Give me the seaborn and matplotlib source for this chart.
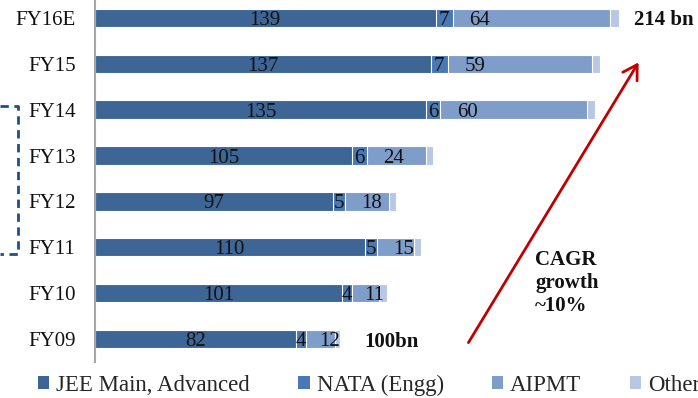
import matplotlib
matplotlib.use("Agg")
import matplotlib.pyplot as plt
import numpy as np
import pandas as pd
import seaborn as sns
from matplotlib.lines import Line2D
from matplotlib.patches import Patch, FancyArrowPatch

sns.set_theme(style="white")
serif = ["Liberation Serif", "DejaVu Serif"]
plt.rcParams["font.family"] = serif

# data, top row first
years = ["FY16E", "FY15", "FY14", "FY13", "FY12", "FY11", "FY10", "FY09"]
jee = [139, 137, 135, 105, 97, 110, 101, 82]
nata = [7, 7, 6, 6, 5, 5, 4, 4]
aipmt = [64, 59, 60, 24, 18, 15, 11, 12]
others = [4, 3, 3, 3, 3, 3, 3, 2]
series = ["JEE Main, Advanced", "NATA (Engg)", "AIPMT", "Other"]
colors = ["#3d6596", "#4a78b4", "#7f9dc9", "#b8c8e4"]

df = pd.DataFrame({"year": years, "jee": jee, "nata": nata,
                   "aipmt": aipmt, "others": others})
df["c1"] = df["jee"]
df["c2"] = df["c1"] + df["nata"]
df["c3"] = df["c2"] + df["aipmt"]
df["c4"] = df["c3"] + df["others"]

fig = plt.figure(figsize=(6.98, 3.98), dpi=100)
ax = fig.add_axes([95 / 698, 1 - 362 / 398, 1 - 95 / 698, 362 / 398])

# stacked bars: draw cumulative totals, largest first
for col, c in zip(["c4", "c3", "c2", "c1"], colors[::-1]):
    sns.barplot(data=df, x=col, y="year", order=years, color=c, width=0.4,
                orient="h", ax=ax, edgecolor="white", linewidth=0.8,
                saturation=1)

fs = 15
txt = dict(va="center_baseline", fontsize=fs, color="#111111")
for i, row in df.iterrows():
    ax.text(row["jee"] / 2, i, str(row["jee"]), ha="center", **txt)
    ax.text(row["c1"] + row["nata"] / 2, i, str(row["nata"]), ha="center", **txt)
    off = min(11, 0.8 * row["aipmt"])
    ax.text(row["c2"] + off, i, str(row["aipmt"]), ha="center", **txt)

ax.set_xlim(0, 603 / 2.45)
ax.set_ylim(7.5, -0.39)
ax.set_xlabel("")
ax.set_ylabel("")
ax.set_xticks([])
ax.tick_params(axis="y", length=0, pad=14, labelsize=fs, labelcolor="#111111")
for s in ["top", "right", "bottom"]:
    ax.spines[s].set_visible(False)
ax.spines["left"].set_color("#a6a6a6")
ax.spines["left"].set_linewidth(1.5)

# totals
ax.text(df["c4"][0] + 6, 0, "214 bn", ha="left", fontweight="bold",
        clip_on=False, **txt)
ax.text(df["c4"][7] + 10, 7, "100bn", ha="left", fontweight="bold", **txt)

# CAGR arrow and text
fig.patches.append(FancyArrowPatch(
    (467 / 698, 1 - 345 / 398), (640 / 698, 1 - 60 / 398),
    transform=fig.transFigure, arrowstyle="->,head_length=10,head_width=6",
    color="#c00000", lw=2))
fig.text(535 / 698, 1 - 283 / 398, "CAGR\ngrowth\n~10%", ha="left",
         va="center", fontsize=fs, fontweight="bold", color="#111111",
         linespacing=1.2)

# dashed bracket on the left
fig.add_artist(Line2D([0, 18 / 698, 18 / 698, 0],
                      [1 - 106 / 398, 1 - 106 / 398, 1 - 254 / 398, 1 - 254 / 398],
                      transform=fig.transFigure, color="#1f4e8c", lw=2,
                      linestyle=(0, (3, 2))))

handles = [Patch(facecolor=c, edgecolor="none") for c in colors]
fig.legend(handles, series, loc="center left",
           bbox_to_anchor=(38 / 698, 1 - 385 / 398), ncol=4, frameon=False,
           prop={"family": serif, "size": 16.5}, handlelength=0.5,
           handleheight=0.5, handletextpad=0.3, columnspacing=2.1,
           borderaxespad=0, borderpad=0)

fig.savefig("out.png", dpi=100)
